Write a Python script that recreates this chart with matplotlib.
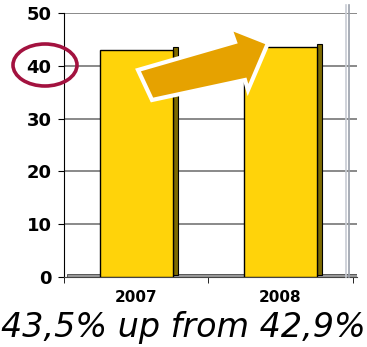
import numpy as np
import matplotlib
matplotlib.use('Agg')
import matplotlib.pyplot as plt
from matplotlib.patches import Ellipse, Polygon

years = ['2007', '2008']
share = [42.9, 43.5]
yticks = [0, 10, 20, 30, 40, 50]
caption = '43,5% up from 42,9%'

W, H = 367, 347


def main():
    fig = plt.figure(figsize=(W / 100, H / 100), dpi=100)
    ax = fig.add_axes([64 / W, (H - 277) / H, (357 - 64) / W, (277 - 13) / H])

    x = np.arange(len(years))
    width = 0.505
    depth = 0.035

    # floor
    ax.axhspan(0, 0.6, xmin=0.01, xmax=1, facecolor='#9a9a9a', edgecolor='#444444', lw=0.6, zorder=1)
    for y in yticks[1:]:
        ax.axhline(y, color='#808080', lw=1.3, zorder=0)

    # side faces of the bars
    ax.bar(x + width / 2 + depth / 2, [v + 0.3 for v in share], width=depth, bottom=0.3,
           color='#7d6a00', edgecolor='black', lw=0.8, zorder=2)
    ax.bar(x, share, width=width, color='#ffd30a', edgecolor='black', lw=1.0, zorder=3)

    ax.set_xlim(-0.5, 1.53)
    ax.set_ylim(0, 50)
    ax.set_yticks(yticks)
    ax.set_yticklabels([str(t) for t in yticks], fontsize=13, fontweight='bold',
                       family='DejaVu Sans')
    ax.set_xticks(x)
    ax.set_xticklabels(years, fontsize=11, fontweight='bold', family='DejaVu Sans')
    ax.set_xticks([-0.5, 0.5, 1.5], minor=True)
    ax.tick_params(axis='x', which='major', length=0, pad=9)
    ax.tick_params(axis='x', which='minor', length=4, color='black')
    ax.tick_params(axis='y', length=4, pad=5, color='black')
    for s in ['top', 'right']:
        ax.spines[s].set_visible(False)
    ax.spines['bottom'].set_color('#444444')

    # right wall edge
    for xp, c in [(346, '#c8ccd4'), (348.5, '#9aa0aa')]:
        fig.add_artist(plt.Line2D([xp / W, xp / W], [1 - 5 / H, 1 - 277 / H],
                                  color=c, lw=1.2))

    # arrow
    pts = [(138, 70), (235, 42), (230, 28), (268, 43), (248, 90), (245, 80), (152, 100)]
    arrow = Polygon([(px / W, 1 - py / H) for px, py in pts], closed=True,
                    facecolor='#e6a200', edgecolor='white', lw=3, transform=fig.transFigure,
                    zorder=5)
    fig.add_artist(arrow)

    # circle round 40
    circ = Ellipse((45 / W, 1 - 65 / H), 64 / W, 42 / H, transform=fig.transFigure,
                   fill=False, edgecolor='#a3123f', lw=2.6)
    fig.add_artist(circ)

    fig.text(0.5, 1 - 328 / H, caption, ha='center', va='center', fontsize=24,
             style='italic', family='DejaVu Sans')

    fig.savefig('out.png', dpi=100)


main()
